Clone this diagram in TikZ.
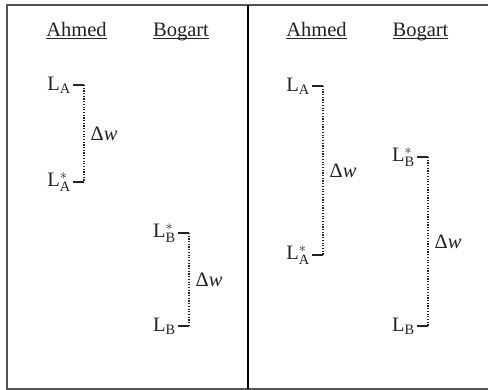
\RequirePackage{fix-cm}
\documentclass[tikz,border=0pt]{standalone}
\usepackage{fontspec}
\setmainfont{Liberation Serif}
\usepackage{tikz}
\definecolor{framegray}{HTML}{555555}
\definecolor{inkdark}{HTML}{222222}
\usetikzlibrary{positioning}
\tikzset{
	hnode/.style={anchor=base, font=\fontsize{20.5}{24}\selectfont, text=inkdark, inner sep=0pt},
	lnode/.style={font=\fontsize{20.5}{24}\selectfont, text=inkdark, inner sep=0pt},
	dnode/.style={font=\fontsize{20.5}{24}\selectfont, text=inkdark, inner sep=0pt, right=6pt},
	frame/.style={draw=framegray, line width=1.3pt},
	divider/.style={draw=black, line width=2.2pt},
	tick/.style={draw=inkdark, line width=1.1pt},
	gap/.style={draw=inkdark, line width=1.2pt, dash pattern=on 1.2pt off 1.5pt}
}
\newcommand{\hdr}[1]{\underline{\smash{#1}}}

\begin{document}
\begin{tikzpicture}[x=1pt, y=-1pt, node distance=13pt]
	\useasboundingbox (0,0) rectangle (488,390);
	\draw[frame] (488,5) -- (7,5) -- (7,389) -- (488,389);
	\draw[divider] (248,5) -- (248,389);

	\node[hnode] (ahl) at (76.5,37) {\hdr{Ahmed}};
	\node[hnode] (bol) at (181,37) {\hdr{Bogart}};
	\node[hnode] (ahr) at (316.5,37) {\hdr{Ahmed}};
	\node[hnode] (bor) at (420.5,37) {\hdr{Bogart}};

	\coordinate (a1) at (84,85);
	\coordinate (a2) at (84,182);
	\coordinate (b1) at (189,233);
	\coordinate (b2) at (189,326);
	\coordinate (a3) at (323,86);
	\coordinate (a4) at (323,255);
	\coordinate (b3) at (428,157);
	\coordinate (b4) at (428,326);

	\node[lnode, left=of a1] (la1) {L$_{\mathrm{A}}$};
	\node[lnode, left=of a2] (la2) {L$^{*}_{\mathrm{A}}$};
	\node[lnode, left=of b1] (lb1) {L$^{*}_{\mathrm{B}}$};
	\node[lnode, left=of b2] (lb2) {L$_{\mathrm{B}}$};
	\node[lnode, left=of a3] (la3) {L$_{\mathrm{A}}$};
	\node[lnode, left=of a4] (la4) {L$^{*}_{\mathrm{A}}$};
	\node[lnode, left=of b3] (lb3) {L$^{*}_{\mathrm{B}}$};
	\node[lnode, left=of b4] (lb4) {L$_{\mathrm{B}}$};

	\draw[tick] ([xshift=2pt]la1.east) -- (a1);
	\draw[tick] ([xshift=2pt]la2.east) -- (a2);
	\draw[tick] ([xshift=2pt]lb1.east) -- (b1);
	\draw[tick] ([xshift=2pt]lb2.east) -- (b2);
	\draw[tick] ([xshift=2pt]la3.east) -- (a3);
	\draw[tick] ([xshift=2pt]la4.east) -- (a4);
	\draw[tick] ([xshift=2pt]lb3.east) -- (b3);
	\draw[tick] ([xshift=2pt]lb4.east) -- (b4);

	\draw[gap] (a1) -- (a2) node[dnode, midway] (dwa1) {Δ\textit{w}};
	\draw[gap] (b1) -- (b2) node[dnode, midway] (dwb1) {Δ\textit{w}};
	\draw[gap] (a3) -- (a4) node[dnode, midway] (dwa2) {Δ\textit{w}};
	\draw[gap] (b3) -- (b4) node[dnode, midway] (dwb2) {Δ\textit{w}};
\end{tikzpicture}
\end{document}
